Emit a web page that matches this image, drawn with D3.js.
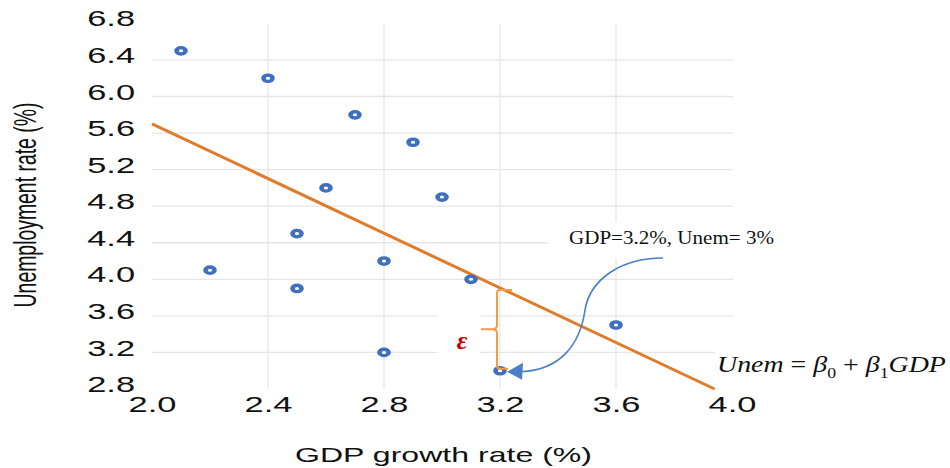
<!DOCTYPE html>
<html>
<head>
<meta charset="utf-8">
<script src="https://cdn.jsdelivr.net/npm/d3@7"></script>
<style>
  html, body { margin: 0; padding: 0; background: #fff; }
  svg { display: block; }
</style>
</head>
<body>
<div id="chart"></div>
<script>
// ---- data ----
const gdpGrowth = [2.1, 2.4, 2.7, 2.9, 2.6, 3.0, 2.5, 2.2, 2.8, 3.1, 2.5, 3.6, 2.8, 3.2];
const unemRate  = [6.5, 6.2, 5.8, 5.5, 5.0, 4.9, 4.5, 4.1, 4.2, 4.0, 3.9, 3.5, 3.2, 3.0];
const xTickValues = [2.0, 2.4, 2.8, 3.2, 3.6, 4.0];
const yTickValues = [2.8, 3.2, 3.6, 4.0, 4.4, 4.8, 5.2, 5.6, 6.0, 6.4, 6.8];
const fitGdp  = [2.0, 3.94];
const fitUnem = [5.70, 2.80];
const highlightGdp = 3.2, highlightUnem = 3.0;
const xTitle = "GDP growth rate (%)";
const yTitle = "Unemployment rate (%)";
const noteText = "GDP=3.2%, Unem= 3%";
const epsText = "ε";

const W = 950, H = 468;
const STRETCH = 1.6;

const svg = d3.select("#chart").append("svg").attr("width", W).attr("height", H);

const x = d3.scaleLinear().domain([2.0, 4.0]).range([152, 732]);
const y = d3.scaleLinear().domain([2.8, 6.8]).range([389, 23.4]);

// fit helper: stretch text horizontally to a measured width
function fitText(sel, x0, y0, target, anchor) {
  const w = sel.node().getComputedTextLength();
  const sx = target / w;
  const left = anchor === "middle" ? x0 - target / 2 : x0;
  sel.attr("text-anchor", "start").attr("transform", `translate(${left},${y0}) scale(${sx},1)`);
}

// gridlines
const grid = svg.append("g").attr("stroke", "#e6e6e6").attr("stroke-width", 1.3);
grid.selectAll("line.v").data(xTickValues.slice(1, -1)).join("line")
  .attr("x1", d => x(d)).attr("x2", d => x(d))
  .attr("y1", y(6.8)).attr("y2", y(2.8));
grid.selectAll("line.h").data(yTickValues.slice(1, -1)).join("line")
  .attr("x1", x(2.0)).attr("x2", x(4.0) + 1)
  .attr("y1", d => y(d)).attr("y2", d => y(d));

// white text boxes (cover gridlines like the original)
svg.append("rect").attr("x", 548).attr("y", 222).attr("width", 240).attr("height", 36).attr("fill", "#fff");
svg.append("rect").attr("x", 437).attr("y", 300).attr("width", 43).attr("height", 62).attr("fill", "#fff");
svg.append("rect").attr("x", 715).attr("y", 340).attr("width", 235).attr("height", 46).attr("fill", "#fff");

// axes
const yAxis = svg.append("g").attr("transform", `translate(${x(2.0)},0)`)
  .call(d3.axisLeft(y).tickValues(yTickValues).tickFormat(d3.format(".1f")).tickSize(0).tickPadding(0));
yAxis.select(".domain").remove();
yAxis.selectAll("text")
  .attr("font-family", "'Liberation Sans', Arial, sans-serif").attr("font-size", 21.5).attr("fill", "#111")
  .attr("x", -10.6).attr("dy", "0.12em").attr("transform", `scale(${STRETCH},1)`);

const xAxis = svg.append("g").attr("transform", `translate(0,${y(2.8)})`)
  .call(d3.axisBottom(x).tickValues(xTickValues).tickFormat(d3.format(".1f")).tickSize(0).tickPadding(8));
xAxis.select(".domain").remove();
xAxis.selectAll("text")
  .attr("font-family", "'Liberation Sans', Arial, sans-serif").attr("font-size", 21.5).attr("fill", "#111")
  .attr("transform", `scale(${STRETCH},1)`);

// axis titles
const xt = svg.append("text").text(xTitle)
  .attr("font-family", "'Liberation Sans', Arial, sans-serif").attr("font-size", 19.4).attr("fill", "#111");
fitText(xt, 443.5, 462, 297, "middle");
svg.append("text").text(yTitle)
  .attr("font-family", "'Liberation Sans', Arial, sans-serif").attr("font-size", 19.4).attr("fill", "#111")
  .attr("text-anchor", "middle")
  .attr("transform", `translate(35.5,205) scale(${STRETCH},1) rotate(-90)`);

// regression line
const fitPts = fitGdp.map((g, i) => [g, fitUnem[i]]);
svg.append("path").datum(fitPts)
  .attr("d", d3.line().x(d => x(d[0])).y(d => y(d[1])))
  .attr("fill", "none").attr("stroke", "#E07B2A").attr("stroke-width", 3);

// points
const pts = gdpGrowth.map((g, i) => [g, unemRate[i]]);
svg.append("g").selectAll("circle").data(pts).join("circle")
  .attr("r", 2.9)
  .attr("transform", d => `translate(${x(d[0])},${y(d[1])}) scale(1.55,1.1)`)
  .attr("fill", "#fff").attr("stroke", "#3F6FBF").attr("stroke-width", 3);

// brace (epsilon) between fitted value and observed point
const slope = (fitUnem[1] - fitUnem[0]) / (fitGdp[1] - fitGdp[0]);
const fitted = fitUnem[0] + slope * (highlightGdp - fitGdp[0]);
const bx = x(highlightGdp) - 3;
const bTop = y(fitted) + 2, bBot = y(highlightUnem) - 2;
const bMid = (bTop + bBot) / 2;
const bp = d3.path();
bp.moveTo(bx + 15, bTop); bp.lineTo(bx + 3, bTop); bp.quadraticCurveTo(bx, bTop, bx, bTop + 3);
bp.lineTo(bx, bMid - 4); bp.quadraticCurveTo(bx, bMid, bx - 5, bMid); bp.lineTo(bx - 16, bMid);
bp.moveTo(bx - 5, bMid); bp.quadraticCurveTo(bx, bMid, bx, bMid + 4);
bp.lineTo(bx, bBot - 3); bp.quadraticCurveTo(bx, bBot, bx + 3, bBot); bp.lineTo(bx + 11, bBot);
svg.append("path").attr("d", bp.toString()).attr("fill", "none")
  .attr("stroke", "#F59A48").attr("stroke-width", 2);

svg.append("text").text(epsText)
  .attr("x", 462).attr("y", 348.5).attr("text-anchor", "middle")
  .attr("font-family", "'Liberation Serif', 'DejaVu Serif', serif")
  .attr("font-style", "italic").attr("font-weight", "bold")
  .attr("font-size", 26).attr("fill", "#C00000");

// curved annotation arrow
const tx = x(highlightGdp) + 7, ty = y(highlightUnem) + 1;
const ap = d3.path();
ap.moveTo(663, 258);
ap.bezierCurveTo(620, 258, 590, 280, 585, 310);
ap.bezierCurveTo(580, 345, 560, 370, tx + 14, ty);
svg.append("path").attr("d", ap.toString()).attr("fill", "none")
  .attr("stroke", "#4A7EC8").attr("stroke-width", 1.6);
svg.append("path")
  .attr("d", `M${tx},${ty} L${tx + 16},${ty - 9} L${tx + 15},${ty + 8} Z`)
  .attr("fill", "#4A7EC8");

const note = svg.append("text").text(noteText)
  .attr("font-family", "'Liberation Serif', 'Times New Roman', serif")
  .attr("font-size", 19).attr("fill", "#111");
fitText(note, 569, 244, 205);

const eq = svg.append("text")
  .attr("font-family", "'Liberation Serif', 'Times New Roman', serif")
  .attr("font-size", 23.5).attr("fill", "#111");
eq.append("tspan").attr("font-style", "italic").text("Unem");
eq.append("tspan").text(" = ");
eq.append("tspan").attr("font-style", "italic").text("β");
eq.append("tspan").attr("font-size", 15).attr("dy", 6).text("0");
eq.append("tspan").attr("dy", -6).text(" + ");
eq.append("tspan").attr("font-style", "italic").text("β");
eq.append("tspan").attr("font-size", 15).attr("dy", 6).text("1");
eq.append("tspan").attr("font-style", "italic").attr("dy", -6).text("GDP");
fitText(eq, 717, 372, 229);
</script>
</body>
</html>
